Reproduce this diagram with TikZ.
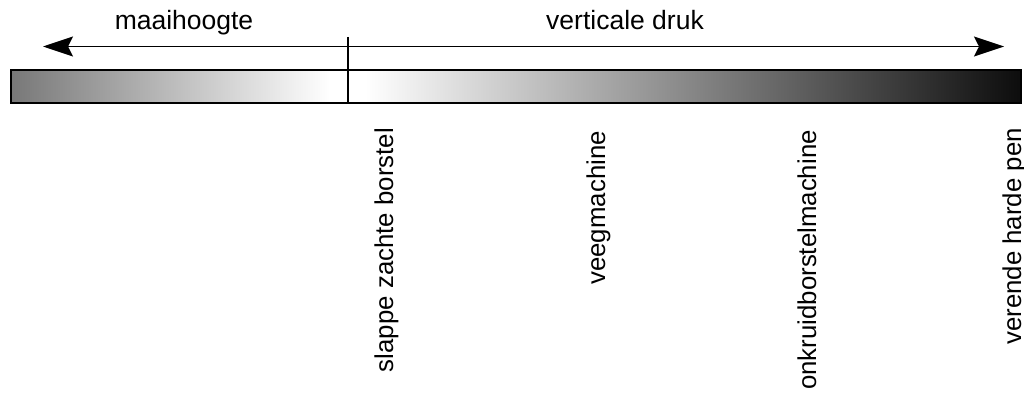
\documentclass[tikz,border=0pt]{standalone}
\usepackage{fontspec}
\setmainfont{Liberation Sans}
\usetikzlibrary{arrows.meta}
\begin{document}
\begin{tikzpicture}[x=1pt,y=-1pt,
  lbl/.style={font=\fontsize{26.5}{30}\selectfont, inner sep=0pt},
  vlbl/.style={font=\fontsize{25.8}{30}\selectfont, inner sep=0pt, rotate=90, anchor=base east},
  axis/.style={line width=1.6pt, -{Stealth[length=30pt,width=20pt,inset=5pt]}}]
\useasboundingbox (0,0) rectangle (1024,396);
% shaded bar in two parts
\shade[left color=black!53, right color=white] (11,70) rectangle (330,103);
\shade[left color=white, right color=white] (329,70) rectangle (366,103);
\shade[left color=white, right color=black!95] (365,70) rectangle (1021,103);
\draw[line width=1.8pt] (11,70) rectangle (1021,103);
% divider
\coordinate (top) at (348,37);
\coordinate (bot) at (348,104);
\draw[line width=1.6pt] (top) -- (bot);
% direction arrows
\coordinate (mid) at (348,46.5);
\coordinate (lt) at (43,46.5);
\coordinate (rt) at (1004,46.5);
\draw[axis] (mid) -- (lt);
\draw[axis] (mid) -- (rt);
% headings
\node[lbl, anchor=base] (h1) at (184,30) {maaihoogte};
\node[lbl, anchor=base] (h2) at (625,30) {verticale druk};
% rotated labels
\node[vlbl] (l1) at (393,128) {slappe zachte borstel};
\node[vlbl] (l2) at (605,131) {veegmachine};
\node[vlbl] (l3) at (816,130) {onkruidborstelmachine};
\node[vlbl] (l4) at (1021,128) {verende harde pen};
\end{tikzpicture}
\end{document}
